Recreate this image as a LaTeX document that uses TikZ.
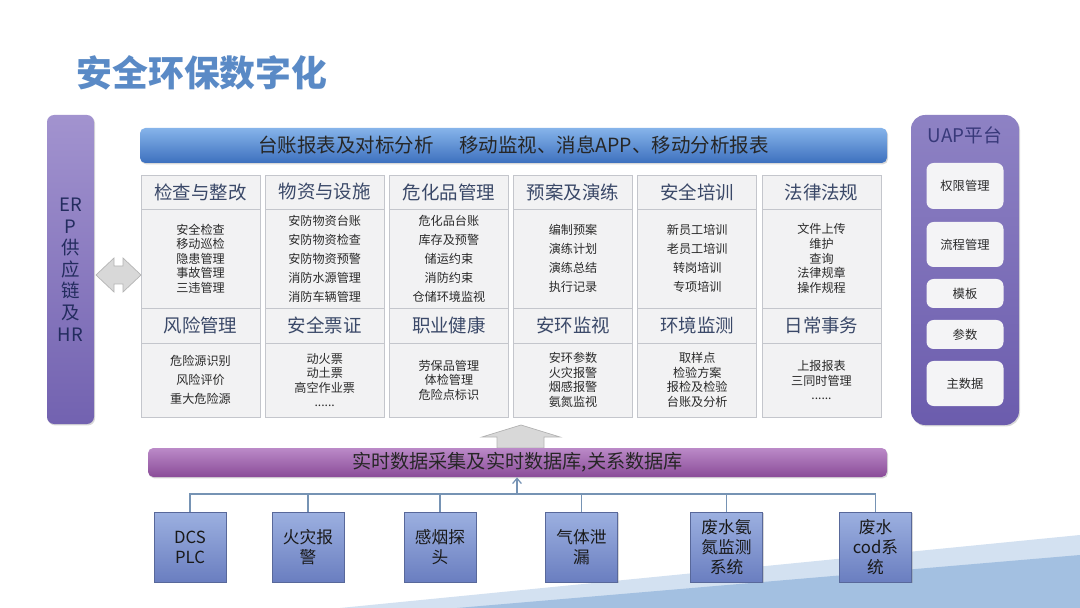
\documentclass[tikz,border=0pt]{standalone}
\usepackage{fontspec}
\setmainfont{Noto Sans CJK SC}
\usetikzlibrary{shadows,arrows.meta}
\newlength\pxu
\setlength\pxu{0.02cm}
\definecolor{titleblue}{HTML}{5A8AC6}
\definecolor{erptop}{HTML}{A293CF}
\definecolor{erpbot}{HTML}{7262B0}
\definecolor{navytext}{HTML}{232C5E}
\definecolor{bartop}{HTML}{86B4EA}
\definecolor{barbot}{HTML}{3D70BE}
\definecolor{cellfill}{HTML}{F2F2F3}
\definecolor{cellline}{HTML}{C4C6CC}
\definecolor{headtext}{HTML}{3A4868}
\definecolor{bodytext}{HTML}{2A2A2A}
\definecolor{uaptop}{HTML}{8E82C4}
\definecolor{uapbot}{HTML}{6B5CAD}
\definecolor{uaptext}{HTML}{38397A}
\definecolor{innerfill}{HTML}{F4F4F6}
\definecolor{dbtop}{HTML}{BB8AC8}
\definecolor{dbbot}{HTML}{8A4C98}
\definecolor{srctop}{HTML}{9CB0E0}
\definecolor{srcbot}{HTML}{6A7EC0}
\definecolor{srcline}{HTML}{58689A}
\definecolor{conncol}{HTML}{7693B4}
\definecolor{arrgray}{HTML}{D8D8D8}
\definecolor{arrline}{HTML}{B4B4B4}
\definecolor{waveA}{HTML}{D3E1F1}
\definecolor{waveB}{HTML}{A3C0E1}
\tikzset{
  wh/.style 2 args={minimum width=#1\pxu, minimum height=#2\pxu},
  shade1/.style={drop shadow={shadow xshift=0.6pt, shadow yshift=-0.8pt, opacity=0.3}},
  titlestyle/.style={font=\fontsize{20.4}{24}\selectfont\bfseries, text=titleblue, inner sep=0pt},
  erpbar/.style={rounded corners=4pt, top color=erptop, bottom color=erpbot, draw=none, align=center,
     text=navytext, font=\fontsize{10.5}{12.3}\selectfont, inner sep=0pt, shade1},
  bluebar/.style={rounded corners=3pt, top color=bartop, bottom color=barbot, draw=none,
     text=black!85, font=\fontsize{11.1}{13}\selectfont, inner sep=0pt, shade1},
  headcell/.style={draw=cellline, line width=0.5pt, fill=cellfill, text=headtext,
     font=\fontsize{10.5}{12}\selectfont, inner sep=0pt, minimum width=119\pxu},
  bodycell/.style={draw=cellline, line width=0.5pt, fill=cellfill, text=bodytext,
     align=center, inner sep=0pt, minimum width=119\pxu},
  tight/.style={font=\fontsize{6.9}{8.3}\selectfont},
  loose/.style={font=\fontsize{6.9}{10.8}\selectfont},
  uappanel/.style={rounded corners=8pt, top color=uaptop, bottom color=uapbot, draw=none, shade1},
  uaptitle/.style={text=uaptext, font=\fontsize{10.7}{12}\selectfont, inner sep=0pt},
  innerbox/.style={rounded corners=4pt, fill=innerfill, draw=none, text=bodytext,
     font=\fontsize{7}{8}\selectfont, inner sep=0pt, minimum width=77\pxu},
  dbbar/.style={rounded corners=3pt, top color=dbtop, bottom color=dbbot, draw=none,
     text=black!85, font=\fontsize{10.9}{13}\selectfont, inner sep=0pt, shade1},
  srcbox/.style={top color=srctop, bottom color=srcbot, draw=srcline, line width=0.3pt,
     align=center, text=black!90, font=\fontsize{9.5}{11.3}\selectfont, inner sep=0pt,
     minimum width=72\pxu, minimum height=70\pxu, shade1},
  conn/.style={draw=conncol, line width=0.7pt},
  blockarrow/.style={fill=arrgray, draw=arrline, line width=0.4pt},
}
\begin{document}
\begin{tikzpicture}[x=0.02cm, y=0.02cm]
\useasboundingbox (0,0) rectangle (1080,-608);
\fill[white] (0,0) rectangle (1080,-608);
% background waves
\fill[waveA] (340,-608) -- (1080,-535) -- (1080,-608) -- cycle;
\fill[waveB] (457,-608) -- (1080,-555) -- (1080,-608) -- cycle;

% title
\node[titlestyle] (title) at (202,-73) {安全环保数字化};

% left ERP bar
\node[erpbar, wh={47}{309}] (erp) at (70.5,-269.5) {ER\\P\\供\\应\\链\\及\\HR};

% top bar
\node[bluebar, wh={747}{35}] (topbar) at (513.5,-145.5)
  {台账报表及对标分析\hspace{1.3em}移动监视、消息APP、移动分析报表};

% grid row 1 headers
\node[headcell, minimum height=34\pxu] (h11) at (200.5,-192) {检查与整改};
\node[headcell, minimum height=34\pxu] (h12) at (324.7,-192) {物资与设施};
\node[headcell, minimum height=34\pxu] (h13) at (448.9,-192) {危化品管理};
\node[headcell, minimum height=34\pxu] (h14) at (573.1,-192) {预案及演练};
\node[headcell, minimum height=34\pxu] (h15) at (697.3,-192) {安全培训};
\node[headcell, minimum height=34\pxu] (h16) at (821.5,-192) {法律法规};
% grid row 1 bodies
\node[bodycell, tight, minimum height=99\pxu] (b11) at (200.5,-258.5) {安全检查\\移动巡检\\隐患管理\\事故管理\\三违管理};
\node[bodycell, loose, minimum height=99\pxu] (b12) at (324.7,-258.5) {安防物资台账\\安防物资检查\\安防物资预警\\消防水源管理\\消防车辆管理};
\node[bodycell, loose, minimum height=99\pxu] (b13) at (448.9,-258.5) {危化品台账\\库存及预警\\储运约束\\消防约束\\仓储环境监视};
\node[bodycell, loose, minimum height=99\pxu] (b14) at (573.1,-258.5) {编制预案\\演练计划\\演练总结\\执行记录};
\node[bodycell, loose, minimum height=99\pxu] (b15) at (697.3,-258.5) {新员工培训\\老员工培训\\转岗培训\\专项培训};
\node[bodycell, tight, minimum height=99\pxu] (b16) at (821.5,-258.5) {文件上传\\维护\\查询\\法律规章\\操作规程};
% grid row 2 headers
\node[headcell, minimum height=35\pxu] (h21) at (200.5,-325.5) {风险管理};
\node[headcell, minimum height=35\pxu] (h22) at (324.7,-325.5) {安全票证};
\node[headcell, minimum height=35\pxu] (h23) at (448.9,-325.5) {职业健康};
\node[headcell, minimum height=35\pxu] (h24) at (573.1,-325.5) {安环监视};
\node[headcell, minimum height=35\pxu] (h25) at (697.3,-325.5) {环境监测};
\node[headcell, minimum height=35\pxu] (h26) at (821.5,-325.5) {日常事务};
% grid row 2 bodies
\node[bodycell, loose, minimum height=74\pxu] (b21) at (200.5,-380) {危险源识别\\风险评价\\重大危险源};
\node[bodycell, tight, minimum height=74\pxu] (b22) at (324.7,-380) {动火票\\动土票\\高空作业票\\......};
\node[bodycell, tight, minimum height=74\pxu] (b23) at (448.9,-380) {劳保品管理\\体检管理\\危险点标识};
\node[bodycell, tight, minimum height=74\pxu] (b24) at (573.1,-380) {安环参数\\火灾报警\\烟感报警\\氨氮监视};
\node[bodycell, tight, minimum height=74\pxu] (b25) at (697.3,-380) {取样点\\检验方案\\报检及检验\\台账及分析};
\node[bodycell, tight, minimum height=74\pxu] (b26) at (821.5,-380) {上报报表\\三同时管理\\......};

% double arrow between ERP and grid
\draw[blockarrow] (96,-275) -- (114,-258) -- (114,-266) -- (123,-266) -- (123,-258)
  -- (141,-275) -- (123,-292) -- (123,-284) -- (114,-284) -- (114,-292) -- cycle;

% UAP panel
\node[uappanel, wh={108}{310}] (uap) at (965,-270) {};
\node[uaptitle] (uapt) at (965,-135) {UAP平台};
\node[innerbox, minimum height=46\pxu] (u1) at (965,-186) {权限管理};
\node[innerbox, minimum height=45\pxu] (u2) at (965,-244.5) {流程管理};
\node[innerbox, minimum height=29\pxu] (u3) at (965,-293.5) {模板};
\node[innerbox, minimum height=29\pxu] (u4) at (965,-334.5) {参数};
\node[innerbox, minimum height=45\pxu] (u5) at (965,-383.5) {主数据};

% up block arrow
\draw[blockarrow] (521,-425) -- (560,-437) -- (544,-437) -- (544,-448)
  -- (497,-448) -- (497,-437) -- (482,-437) -- cycle;

% database bar
\node[dbbar, wh={739}{29}] (db) at (517.5,-462.5) {实时数据采集及实时数据库,关系数据库};

% source boxes
\node[srcbox] (s1) at (190,-547) {DCS\\PLC};
\node[srcbox] (s2) at (308,-547) {火灾报\\警};
\node[srcbox] (s3) at (440,-547) {感烟探\\头};
\node[srcbox] (s4) at (581.5,-547) {气体泄\\漏};
\node[srcbox] (s5) at (726.5,-547) {废水氨\\氮监测\\系统};
\node[srcbox] (s6) at (875.5,-547) {废水\\cod系\\统};

% connectors
\coordinate (bus) at (517,-494);
\draw[conn] (s1.north) |- (bus) -| (s6.north);
\draw[conn] (s2.north) -- (s2.north |- bus);
\draw[conn] (s3.north) -- (s3.north |- bus);
\draw[conn] (s4.north) -- (s4.north |- bus);
\draw[conn] (s5.north) -- (s5.north |- bus);
\draw[conn, -{Straight Barb[length=3pt,width=5pt]}] (bus) -- (bus |- db.south);
\end{tikzpicture}
\end{document}
